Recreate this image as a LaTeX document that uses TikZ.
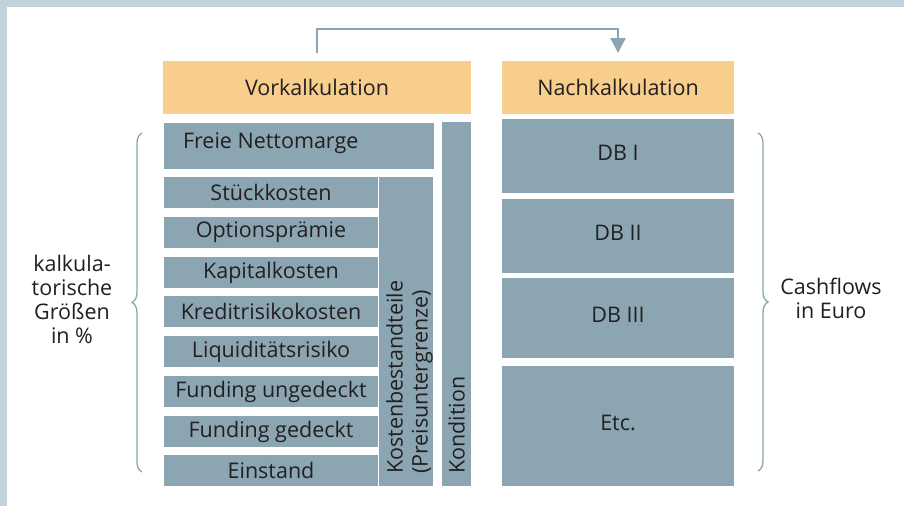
\documentclass[tikz,border=0pt]{standalone}
\usepackage{fontspec}
\setmainfont{Open Sans}
\usetikzlibrary{arrows.meta,decorations.pathreplacing}
\definecolor{frame}{HTML}{C2D1DA}
\definecolor{boxc}{HTML}{8BA6B2}
\definecolor{orangec}{HTML}{F8CE8C}
\definecolor{txt}{HTML}{231F20}
\tikzset{
  box/.style={fill=boxc, inner sep=0pt, outer sep=0pt, text=txt, font=\fontsize{21.5}{24}\selectfont},
  dbbox/.style={box, text height=15.4pt, text depth=6pt},
  head/.style={fill=orangec, inner sep=0pt, outer sep=0pt, text=txt, font=\fontsize{21.5}{24}\selectfont},
  lbl/.style={text=txt, inner sep=0pt, align=center, font=\fontsize{21.5}{24}\selectfont},
  vlbl/.style={text=txt, inner sep=0pt, rotate=90, anchor=west, align=left, font=\fontsize{21.5}{25}\selectfont},
  flow/.style={draw=boxc, line width=2.3pt, -{Triangle[width=15pt,length=15pt]}},
  brc/.style={draw=boxc, line width=1.3pt, decorate, decoration={brace, amplitude=10pt}}
}
\begin{document}
\begin{tikzpicture}[x=1pt,y=-1pt]
\fill[frame] (0,0) rectangle (904,506);
\fill[white] (7,7) rectangle (904,506);
\useasboundingbox (0,0) rectangle (904,506);
% headers
\node[head, minimum width=308pt, minimum height=53pt] (vk) at (317,87.5) {Vorkalkulation};
\node[head, minimum width=232pt, minimum height=53pt] (nk) at (618,87.5) {Nachkalkulation};
\draw[flow] ([yshift=8pt]vk.north) -- ++(0,-24) -| ([yshift=8pt]nk.north);
% left part
\node[box, minimum width=270pt, minimum height=46pt] (fn) at (299,146) {};
\node[box, anchor=west] (fnt) at ([xshift=19pt,yshift=3pt]fn.west) {Freie Nettomarge};
\node[box, minimum width=214pt, minimum height=31pt] (r1) at (271,192.5) {Stückkosten};
\node[box, minimum width=214pt, minimum height=31pt] (r2) at (271,232.5) {Optionsprämie};
\node[box, minimum width=214pt, minimum height=31pt] (r3) at (271,272.5) {Kapitalkosten};
\node[box, minimum width=214pt, minimum height=31pt] (r4) at (271,311.5) {Kreditrisikokosten};
\node[box, minimum width=214pt, minimum height=31pt] (r5) at (271,351.5) {Liquiditätsrisiko};
\node[box, minimum width=214pt, minimum height=31pt] (r6) at (271,391.5) {Funding ungedeckt};
\node[box, minimum width=214pt, minimum height=31pt] (r7) at (271,431.5) {Funding gedeckt};
\node[box, minimum width=214pt, minimum height=31pt] (r8) at (271,470.5) {Einstand};
\node[box, minimum width=54pt, minimum height=309pt] (kb) at (406,331.5) {};
\node[vlbl] (kbt) at (409.5,474) {Kostenbestandteile\\(Preisuntergrenze)};
\node[box, minimum width=29pt, minimum height=364pt] (ko) at (456.5,304) {};
\node[vlbl] (kot) at (456.5,474) {Kondition};
% right part
\node[dbbox, minimum width=232pt, minimum height=74pt] (d1) at (618,156) {DB I};
\node[dbbox, minimum width=232pt, minimum height=74pt] (d2) at (618,236) {DB II};
\node[dbbox, minimum width=232pt, minimum height=80pt] (d3) at (618,318) {DB III};
\node[dbbox, minimum width=232pt, minimum height=120pt] (d4) at (618,426) {Etc.};
% braces
\draw[brc] (142,472) -- (142,133);
\draw[brc] (758,133) -- (758,471);
\node[lbl] (kl) at (72,299) {kalkula-\\torische\\Größen\\in \%};
\node[lbl] (cl) at (831,298) {Cashflows\\in Euro};
\end{tikzpicture}
\end{document}
